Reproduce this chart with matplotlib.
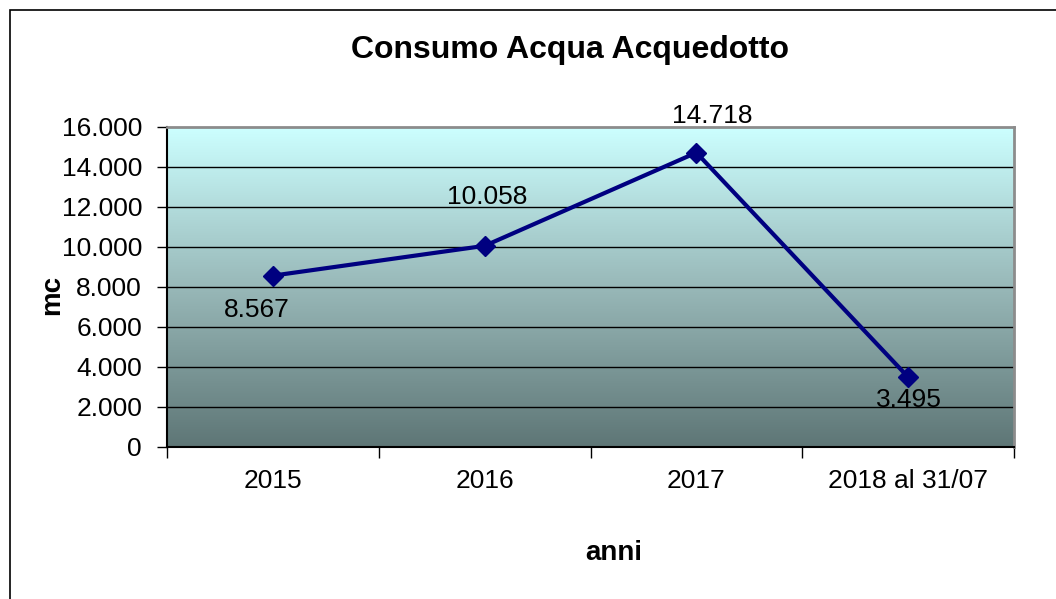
import matplotlib
matplotlib.use("Agg")
import matplotlib.pyplot as plt
import numpy as np
from matplotlib.colors import LinearSegmentedColormap
from matplotlib.patches import Rectangle
from matplotlib.ticker import FuncFormatter, FixedLocator

categories = ["2015", "2016", "2017", "2018 al 31/07"]
values = [8567, 10058, 14718, 3495]
value_labels = ["8.567", "10.058", "14.718", "3.495"]
yticks = [0, 2000, 4000, 6000, 8000, 10000, 12000, 14000, 16000]

plt.rcParams['font.family'] = ['Liberation Sans', 'DejaVu Sans']

W, H = 1056, 599
fig = plt.figure(figsize=(W / 100, H / 100), dpi=100)
# figure frame (left/top visible)
fig.patches.append(Rectangle((10 / W, -0.1), 1.2, 1 - 10 / H + 0.1, transform=fig.transFigure,
                             fill=False, edgecolor='black', linewidth=1.2))

ax = fig.add_axes([167 / W, 1 - 447 / H, (1014 - 167) / W, (447 - 127) / H])

# gradient background
cmap = LinearSegmentedColormap.from_list('bg', ['#5E7676', '#98B8B8', '#CCFFFF'])
grad = np.linspace(0, 1, 256).reshape(-1, 1)
ax.imshow(grad, aspect='auto', cmap=cmap, origin='lower',
          extent=[0, 1, 0, 1], transform=ax.transAxes, zorder=0)

x = np.arange(len(categories))
ax.set_xlim(-0.5, len(categories) - 0.5)
ax.set_ylim(0, 16000)

for yv in yticks[1:-1]:
    ax.axhline(yv, color='black', linewidth=1, zorder=1)

ax.plot(x, values, color='#000080', linewidth=3, marker='D', markersize=10, zorder=3)

offsets = [(-16, -34), (3, 49), (16, 37), (1, -23)]
for xi, v, lab, (dx, dy) in zip(x, values, value_labels, offsets):
    ax.annotate(lab, (xi, v), xytext=(dx, dy), textcoords='offset pixels',
                ha='center', va='center', fontsize=19, color='black', zorder=4)

ax.yaxis.set_major_locator(FixedLocator(yticks))
ax.yaxis.set_major_formatter(FuncFormatter(lambda v, p: f"{int(v):,}".replace(",", ".")))
ax.set_xticks(x)
ax.set_xticklabels(categories)
ax.set_xticks(np.arange(-0.5, len(categories)), minor=True)
ax.tick_params(axis='x', which='major', length=0, pad=16, labelsize=19)
ax.tick_params(axis='x', which='minor', length=8, width=1, color='black')
ax.tick_params(axis='y', length=7, width=1, color='black', labelsize=19, pad=11)

for s in ['left', 'bottom']:
    ax.spines[s].set_color('black')
    ax.spines[s].set_linewidth(1.5)
for s in ['top', 'right']:
    ax.spines[s].set_color('#8C8C8C')
    ax.spines[s].set_linewidth(2)

fig.text(570 / W, 1 - 50 / H, "Consumo Acqua Acquedotto", ha='center', va='center',
         fontsize=23, fontweight='bold')
fig.text(52 / W, 1 - 295 / H, "mc", ha='center', va='center', rotation=90,
         fontsize=20, fontweight='bold')
fig.text(614 / W, 1 - 553 / H, "anni", ha='center', va='center',
         fontsize=20, fontweight='bold')

fig.savefig("out.png", dpi=100)
